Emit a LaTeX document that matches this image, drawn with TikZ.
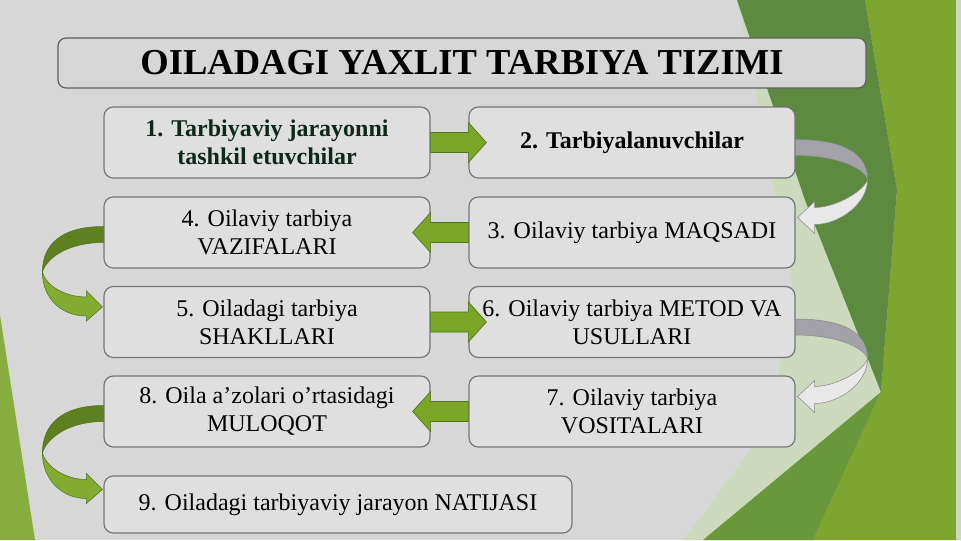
\documentclass[tikz,border=0pt]{standalone}
\usepackage{fontspec}
\setmainfont{Liberation Serif}
\usepackage{tikz}
\usetikzlibrary{calc}
\definecolor{slidebg}{RGB}{215,215,215}
\definecolor{boxfill}{RGB}{223,223,223}
\definecolor{boxedge}{RGB}{118,118,118}
\definecolor{titleedge}{RGB}{95,95,95}
\definecolor{darkleaf}{RGB}{92,138,62}
\definecolor{midleaf}{RGB}{104,152,58}
\definecolor{lightleaf}{RGB}{125,166,46}
\definecolor{paleleaf}{RGB}{204,217,188}
\definecolor{arrowgreen}{RGB}{122,166,40}
\definecolor{arrowedge}{RGB}{82,115,30}
\definecolor{ribbonback}{RGB}{94,128,32}
\definecolor{ribbonfront}{RGB}{130,172,48}
\definecolor{greyback}{RGB}{162,162,168}
\definecolor{greyfront}{RGB}{232,232,232}
\definecolor{greyedge}{RGB}{138,138,138}
\definecolor{firsttext}{RGB}{15,40,25}
\tikzstyle{stage}=[draw=boxedge, fill=boxfill, rounded corners=7pt, line width=0.9pt,
  minimum width=244.5pt, minimum height=53.25pt, inner sep=0pt, align=center,
  font=\fontsize{18}{21}\selectfont]
\tikzstyle{titlebox}=[draw=titleedge, fill=slidebg, rounded corners=6pt, line width=0.9pt,
  minimum width=606pt, minimum height=37.5pt, inner sep=0pt,
  font=\fontsize{27.4}{32}\selectfont\bfseries]
\tikzstyle{flowArrow}=[fill=arrowgreen, draw=arrowedge, line width=0.5pt, line join=miter]
\tikzstyle{ribbonBack}=[fill=ribbonback, draw=arrowedge, line width=0.4pt]
\tikzstyle{ribbonFront}=[fill=ribbonfront, draw=arrowedge, line width=0.4pt]
\tikzstyle{greyBack}=[fill=greyback, draw=greyedge, line width=0.4pt]
\tikzstyle{greyFront}=[fill=greyfront, draw=greyedge, line width=0.4pt]
% straight block arrow, head ends inside the target box
\newcommand{\flowarrow}[2]{%
  \filldraw[flowArrow] ($(#1)+(0,-10)$) -- ($(#2)+(0,-10)$) -- ($(#2)+(0,-20)$)
    -- ($(#2)!-13.5pt!(#1)$) -- ($(#2)+(0,20)$) -- ($(#2)+(0,10)$)
    -- ($(#1)+(0,10)$) -- cycle;
}
% curved ribbon arrow on the left side
\newcommand{\leftribbon}[2]{%
  \coordinate (ra) at (#1.west);
  \coordinate (rb) at (#2.west);
  \coordinate (rl) at ($(ra)!0.5!(rb)+(-61,-5)$);
  \filldraw[ribbonBack] ($(ra)+(0,-6)$) .. controls ($(ra)+(-42,-6)$) and ($(rl)+(0,-28)$) .. (rl)
    .. controls ($(rl)+(4,-14)$) and ($(ra)+(-36,10)$) .. ($(ra)+(0,10)$) -- cycle;
  \filldraw[ribbonFront] (rl) .. controls ($(rl)+(0,26)$) and ($(rb)+(-42,-6)$) .. ($(rb)+(-17,-6)$)
    -- ($(rb)+(-17,-1)$) -- ($(rb)+(-1,-15)$) -- ($(rb)+(-17,-31)$) -- ($(rb)+(-17,-25)$)
    .. controls ($(rb)+(-38,-25)$) and ($(rl)+(4,14)$) .. (rl) -- cycle;
}
% curved ribbon arrow on the right side
\newcommand{\rightribbon}[2]{%
  \coordinate (ra) at (#1.east);
  \coordinate (rb) at (#2.east);
  \coordinate (rl) at ($(ra)!0.5!(rb)+(72,-8)$);
  \filldraw[greyBack] ($(ra)+(0,-3)$) .. controls ($(ra)+(48,-3)$) and ($(rl)+(0,-26)$) .. (rl)
    .. controls ($(rl)+(-4,-12)$) and ($(ra)+(40,13)$) .. ($(ra)+(0,13)$) -- cycle;
  \filldraw[greyFront] (rl) .. controls ($(rl)+(0,24)$) and ($(rb)+(44,-8)$) .. ($(rb)+(19,-8)$)
    -- ($(rb)+(19,1)$) -- ($(rb)+(2,-15)$) -- ($(rb)+(19,-31)$) -- ($(rb)+(19,-25)$)
    .. controls ($(rb)+(40,-25)$) and ($(rl)+(-4,12)$) .. (rl) -- cycle;
}
\begin{document}
\begin{tikzpicture}[x=0.75pt, y=-0.75pt]
  \useasboundingbox (0,0) rectangle (961,540);

  % background
  \fill[slidebg] (0,0) rectangle (961,540);
  \fill[paleleaf] (737,0) -- (881,392) -- (703,540) -- (684,540) -- (772,420) -- (792,280) -- (757,100) -- cycle;
  \fill[lightleaf] (865,0) -- (961,0) -- (961,540) -- (813,540) -- (881,392) -- (897,190) -- cycle;
  \fill[darkleaf] (737,0) -- (865,0) -- (897,190) -- (881,392) -- (805,200) -- cycle;
  \fill[midleaf] (703,540) -- (881,392) -- (813,540) -- cycle;
  \fill[paleleaf] (956,0) rectangle (961,540);
  \fill[lightleaf!92!white] (0,315) -- (35,540) -- (0,540) -- cycle;

  \node[titlebox] (title) at (462,63) {OILADAGI YAXLIT TARBIYA TIZIMI};

  \node[stage, font=\fontsize{18}{21}\selectfont\bfseries, text=firsttext] (b1) at (267,142.5)
    {1. Tarbiyaviy jarayonni\\tashkil etuvchilar};
  \node[stage, font=\fontsize{18}{21}\selectfont\bfseries] (b2) at (632,142.5) {2. Tarbiyalanuvchilar};
  \node[stage] (b3) at (632,232.5) {3. Oilaviy tarbiya MAQSADI};
  \node[stage] (b4) at (267,232.5) {4. Oilaviy tarbiya\\VAZIFALARI};
  \node[stage] (b5) at (267,322) {5. Oiladagi tarbiya\\SHAKLLARI};
  \node[stage] (b6) at (632,322) {6. Oilaviy tarbiya METOD VA\\USULLARI};
  \node[stage] (b7) at (632,411.5) {7. Oilaviy tarbiya\\VOSITALARI};
  \node[stage] (b8) at (267,411.5) {8. Oila a’zolari o’rtasidagi\\MULOQOT};
  \node[stage, minimum width=351pt, minimum height=42.75pt] (b9) at (338,504.5)
    {9. Oiladagi tarbiyaviy jarayon NATIJASI};

  \flowarrow{b1.east}{b2.west}
  \flowarrow{b3.west}{b4.east}
  \flowarrow{b5.east}{b6.west}
  \flowarrow{b7.west}{b8.east}

  \leftribbon{b4}{b5}
  \leftribbon{b8}{b9}
  \rightribbon{b2}{b3}
  \rightribbon{b6}{b7}
\end{tikzpicture}
\end{document}
